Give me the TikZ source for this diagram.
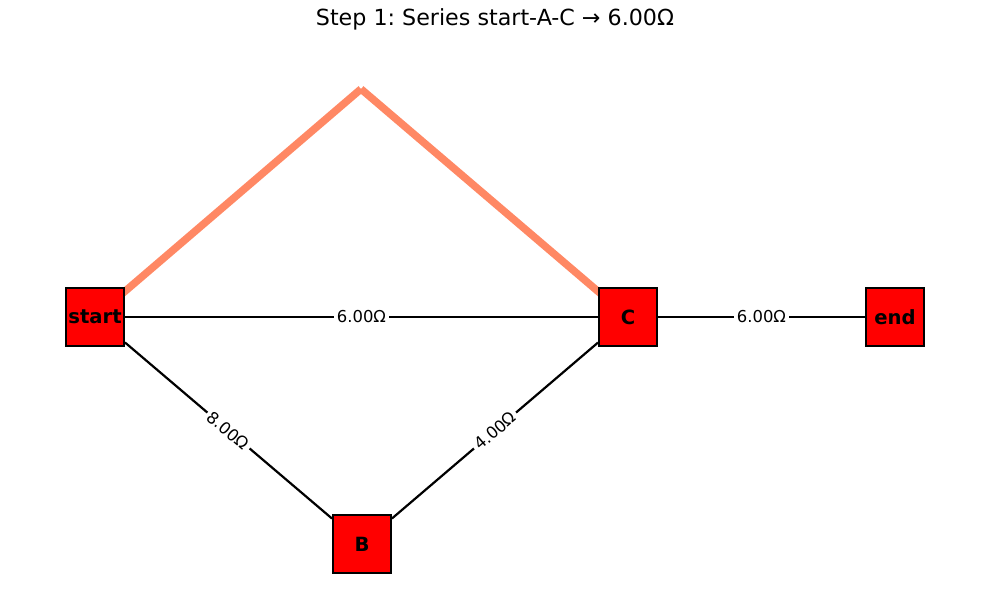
\documentclass[tikz,border=0pt]{standalone}
\usepackage{fontspec}
\setmainfont{DejaVu Sans}
\frenchspacing
\begin{document}
\begin{tikzpicture}[x=1pt,y=-1pt,
  vbox/.style={draw=black,line width=2pt,fill=red,minimum size=58pt,inner sep=0pt,
    font=\fontsize{19.6}{22}\selectfont\bfseries},
  edge/.style={draw=black,line width=2.2pt},
  hl/.style={draw={rgb,255:red,255;green,136;blue,100},line width=7.5pt},
  elabel/.style={fill=white,inner sep=3pt,font=\fontsize{16.4}{19}\selectfont}]
\useasboundingbox (0,0) rectangle (989,590);
\node[font=\fontsize{22.2}{26}\selectfont] (title) at (495,19) {Step 1: Series start-A-C → 6.00Ω};
\coordinate (A) at (361,89);
\coordinate (startc) at (95,317);
\coordinate (Cc) at (628,317);
\draw[hl] (startc) -- (A);
\draw[hl] (A) -- (Cc);
\node[vbox] (start) at (95,317) {start};
\node[vbox] (C) at (628,317) {C};
\node[vbox] (end) at (895,317) {end};
\node[vbox] (B) at (362,544) {B};
\draw[edge] (start) -- node[elabel] {6.00Ω} (C);
\draw[edge] (C) -- node[elabel] {6.00Ω} (end);
\draw[edge] (start) -- node[elabel,sloped] {8.00Ω} (B);
\draw[edge] (B) -- node[elabel,sloped] {4.00Ω} (C);
\end{tikzpicture}
\end{document}
